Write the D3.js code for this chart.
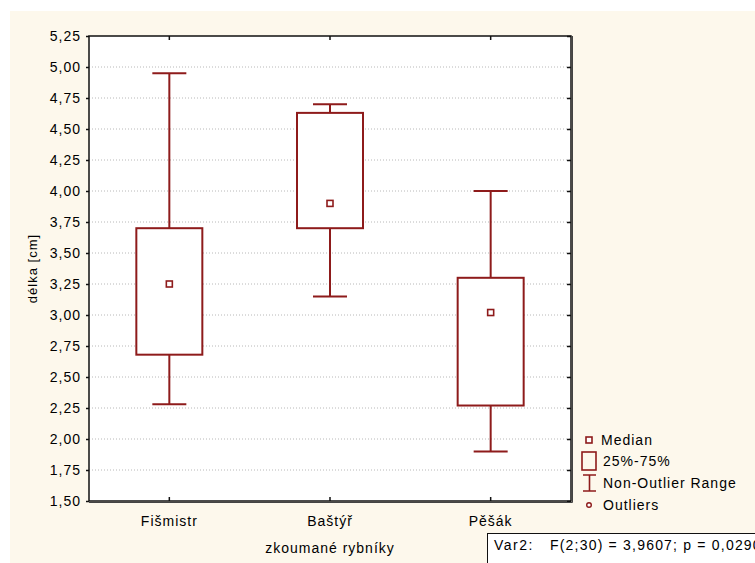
<!DOCTYPE html>
<html><head><meta charset="utf-8">
<script src="https://cdn.jsdelivr.net/npm/d3@7"></script>
<style>body{margin:0;background:#fff}svg{display:block}text{font-family:"Liberation Sans",Arial,sans-serif;fill:#000;letter-spacing:1px}</style>
</head><body><svg id="c" width="755" height="563"></svg>
<script>
const categories = ["Fišmistr", "Baštýř", "Pěšák"];
const medians = [3.25, 3.90, 3.02];
const q1 = [2.68, 3.70, 2.27];
const q3 = [3.70, 4.63, 3.30];
const whiskerMin = [2.28, 3.15, 1.90];
const whiskerMax = [4.95, 4.70, 4.00];
const yTicks = [1.50, 1.75, 2.00, 2.25, 2.50, 2.75, 3.00, 3.25, 3.50, 3.75, 4.00, 4.25, 4.50, 4.75, 5.00, 5.25];
const legendItems = ["Median", "25%-75%", "Non-Outlier Range", "Outliers"];
const yLabel = "délka [cm]";
const xLabel = "zkoumané rybníky";
const statLabel = "Var2:";
const statText = "F(2;30) = 3,9607; p = 0,0290";

const FS = 14;
const svg = d3.select("#c");
const red = "#8e1b1b";
const m = {l: 89, t: 36, r: 571, b: 501};
svg.append("rect").attr("x", 10).attr("y", 11).attr("width", 745).attr("height", 552).attr("fill", "#fdf8ec");
svg.append("rect").attr("x", m.l).attr("y", m.t).attr("width", m.r - m.l).attr("height", m.b - m.t).attr("fill", "#fff");

const x = d3.scaleBand().domain(categories).range([m.l, m.r]).padding(0);
const y = d3.scaleLinear().domain([1.5, 5.25]).range([m.b, m.t]);
const fmt = d => d.toFixed(2).replace(".", ",");

// grid
svg.append("g").selectAll("line").data(yTicks.filter(t => t > 1.5 && t < 5.25)).join("line")
  .attr("x1", m.l).attr("x2", m.r).attr("y1", d => y(d)).attr("y2", d => y(d))
  .attr("stroke", "#b8b8b8").attr("stroke-dasharray", "1,2").attr("stroke-width", 1);

// axes
const yAxisL = d3.axisLeft(y).tickValues(yTicks).tickFormat(fmt).tickSize(3).tickPadding(5);
const gl = svg.append("g").attr("transform", `translate(${m.l},0)`).call(yAxisL);
const yAxisR = d3.axisRight(y).tickValues(yTicks).tickFormat("").tickSize(-4);
const gr = svg.append("g").attr("transform", `translate(${m.r},0)`).call(yAxisR);
const xAxisB = d3.axisBottom(x).tickSize(-4).tickPadding(13);
const gb = svg.append("g").attr("transform", `translate(0,${m.b})`).call(xAxisB);
const xAxisT = d3.axisTop(x).tickSize(-4).tickFormat("");
const gt = svg.append("g").attr("transform", `translate(0,${m.t})`).call(xAxisT);
[gl, gr, gb, gt].forEach(g => {
  g.select(".domain").remove();
  g.selectAll(".tick line").attr("stroke", "#111").attr("stroke-width", 1.5);
  g.selectAll("text").attr("font-size", FS).attr("fill", "#000").attr("font-family", '"Liberation Sans",Arial,sans-serif');
});
gb.selectAll(".tick text").attr("dy", "0.85em");
svg.append("rect").attr("x", m.l).attr("y", m.t).attr("width", m.r - m.l).attr("height", m.b - m.t)
  .attr("fill", "none").attr("stroke", "#111").attr("stroke-width", 1.5);
svg.append("line").attr("x1", m.r + 1.5).attr("x2", m.r + 1.5).attr("y1", m.t).attr("y2", m.b + 1.5).attr("stroke", "#444").attr("stroke-width", 1);
svg.append("line").attr("x1", m.l).attr("x2", m.r + 1.5).attr("y1", m.b + 1.5).attr("y2", m.b + 1.5).attr("stroke", "#444").attr("stroke-width", 1);

// boxes
const bw = 66, cw = 34;
const g = svg.append("g");
categories.forEach((c, i) => {
  const cx = x(c) + x.bandwidth() / 2;
  g.append("line").attr("x1", cx).attr("x2", cx).attr("y1", y(whiskerMax[i])).attr("y2", y(q3[i])).attr("stroke", red).attr("stroke-width", 2);
  g.append("line").attr("x1", cx).attr("x2", cx).attr("y1", y(q1[i])).attr("y2", y(whiskerMin[i])).attr("stroke", red).attr("stroke-width", 2);
  g.append("line").attr("x1", cx - cw / 2).attr("x2", cx + cw / 2).attr("y1", y(whiskerMax[i])).attr("y2", y(whiskerMax[i])).attr("stroke", red).attr("stroke-width", 2);
  g.append("line").attr("x1", cx - cw / 2).attr("x2", cx + cw / 2).attr("y1", y(whiskerMin[i])).attr("y2", y(whiskerMin[i])).attr("stroke", red).attr("stroke-width", 2);
  g.append("rect").attr("x", cx - bw / 2).attr("y", y(q3[i])).attr("width", bw).attr("height", y(q1[i]) - y(q3[i]))
    .attr("fill", "#fff").attr("stroke", red).attr("stroke-width", 2);
  g.append("rect").attr("x", cx - 3).attr("y", y(medians[i]) - 3).attr("width", 6).attr("height", 6)
    .attr("fill", "#fff").attr("stroke", red).attr("stroke-width", 1.6);
});

// labels
svg.append("text").attr("transform", `translate(37,${(m.t + m.b) / 2}) rotate(-90)`).attr("text-anchor", "middle")
  .attr("font-size", FS - 1).text(yLabel);
svg.append("text").attr("x", (m.l + m.r) / 2).attr("y", 553).attr("text-anchor", "middle").attr("font-size", FS).text(xLabel);

// legend
const lg = svg.append("g");
const ly = [440, 461, 483, 505];
lg.append("rect").attr("x", 586).attr("y", ly[0] - 3).attr("width", 6).attr("height", 6).attr("fill", "#fff").attr("stroke", red).attr("stroke-width", 1.6);
lg.append("rect").attr("x", 582).attr("y", ly[1] - 9).attr("width", 14).attr("height", 18).attr("fill", "none").attr("stroke", red).attr("stroke-width", 1.6);
lg.append("path").attr("d", `M583,${ly[2]-8}H596M589.5,${ly[2]-8}V${ly[2]+8}M583,${ly[2]+8}H596`).attr("fill", "none").attr("stroke", red).attr("stroke-width", 1.6);
lg.append("circle").attr("cx", 589).attr("cy", ly[3]).attr("r", 2.3).attr("fill", "#fff").attr("stroke", red).attr("stroke-width", 1.4);
lg.selectAll("text.l").data(legendItems).join("text").attr("class", "l")
  .attr("x", (d, i) => i === 0 ? 601 : 603).attr("y", (d, i) => ly[i]).attr("dy", "0.36em").attr("font-size", FS).text(d => d);

// stats box
svg.append("rect").attr("x", 487.5).attr("y", 533.5).attr("width", 280).attr("height", 40).attr("fill", "#fff").attr("stroke", "#111").attr("stroke-width", 1);
svg.append("text").attr("x", 494).attr("y", 550).attr("font-size", FS).style("letter-spacing", "1.5px").text(statLabel);
svg.append("text").attr("x", 550).attr("y", 550).attr("font-size", FS).style("letter-spacing", "1.2px").text(statText);
</script></body></html>
